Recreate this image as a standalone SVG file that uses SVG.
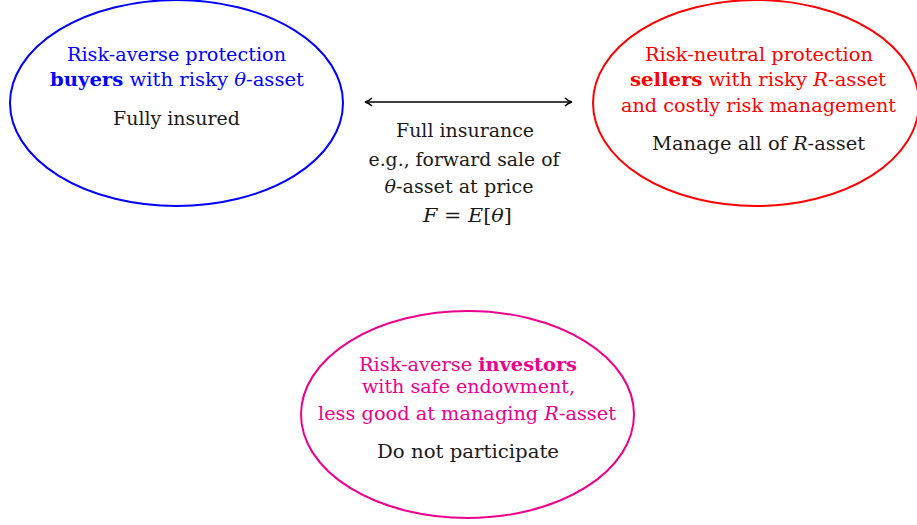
<svg xmlns="http://www.w3.org/2000/svg" width="917" height="525" viewBox="0 0 917 525">
<style>
text{font-family:"DejaVu Serif","Liberation Serif",serif;font-size:18px;text-anchor:middle}
.b{fill:#0000ff}.r{fill:#ff0000}.m{fill:#ec008c}.k{fill:#1a1a1a}
.i{font-style:italic}.bf{font-weight:bold}
ellipse{fill:none;stroke-width:2}
</style>
<defs>
<marker id="ah" viewBox="0 0 10 10" refX="9" refY="5" markerWidth="10" markerHeight="10" markerUnits="userSpaceOnUse" orient="auto-start-reverse">
<path d="M2,1 Q5,4 9,5 Q5,6 2,9" fill="none" stroke="#000" stroke-width="1.5"/>
</marker>
</defs>
<rect width="917" height="525" fill="#fff"/>
<g id="connectors">
<line x1="365" y1="102" x2="572" y2="102" stroke="#000" stroke-width="1.6" marker-start="url(#ah)" marker-end="url(#ah)"/>
<text class="k" x="465" y="137" textLength="138" lengthAdjust="spacingAndGlyphs">Full insurance</text>
<text class="k" x="464" y="166" textLength="191" lengthAdjust="spacingAndGlyphs">e.g., forward sale of</text>
<text class="k" x="459" y="193" textLength="149" lengthAdjust="spacingAndGlyphs"><tspan class="i">θ</tspan>-asset at price</text>
<text class="k" x="467.5" y="222" textLength="89" lengthAdjust="spacingAndGlyphs"><tspan class="i">F</tspan> = <tspan class="i">E</tspan>[<tspan class="i">θ</tspan>]</text>
</g>
<g id="buyers">
<ellipse cx="176.5" cy="103" rx="166.5" ry="103" stroke="#0000ff"/>
<text class="b" x="176.5" y="61" textLength="219" lengthAdjust="spacingAndGlyphs">Risk-averse protection</text>
<text class="b" x="177" y="86" textLength="254" lengthAdjust="spacingAndGlyphs"><tspan class="bf">buyers</tspan> with risky <tspan class="i">θ</tspan>-asset</text>
<text class="k" x="176.5" y="125" textLength="127" lengthAdjust="spacingAndGlyphs">Fully insured</text>
</g>
<g id="sellers">
<ellipse cx="756" cy="103" rx="163" ry="103" stroke="#ff0000"/>
<text class="r" x="759" y="61" textLength="228" lengthAdjust="spacingAndGlyphs">Risk-neutral protection</text>
<text class="r" x="758" y="86" textLength="256" lengthAdjust="spacingAndGlyphs"><tspan class="bf">sellers</tspan> with risky <tspan class="i">R</tspan>-asset</text>
<text class="r" x="758.5" y="112" textLength="275" lengthAdjust="spacingAndGlyphs">and costly risk management</text>
<text class="k" x="758.5" y="150" textLength="213" lengthAdjust="spacingAndGlyphs">Manage all of <tspan class="i">R</tspan>-asset</text>
</g>
<g id="investors">
<ellipse cx="467.5" cy="414.5" rx="166.5" ry="103.5" stroke="#ec008c"/>
<text class="m" x="468" y="371" textLength="218" lengthAdjust="spacingAndGlyphs">Risk-averse <tspan class="bf">investors</tspan></text>
<text class="m" x="468.5" y="393" textLength="213" lengthAdjust="spacingAndGlyphs">with safe endowment,</text>
<text class="m" x="467" y="420" textLength="298" lengthAdjust="spacingAndGlyphs">less good at managing <tspan class="i">R</tspan>-asset</text>
<text class="k" x="468" y="458" textLength="182" lengthAdjust="spacingAndGlyphs">Do not participate</text>
</g>
</svg>
